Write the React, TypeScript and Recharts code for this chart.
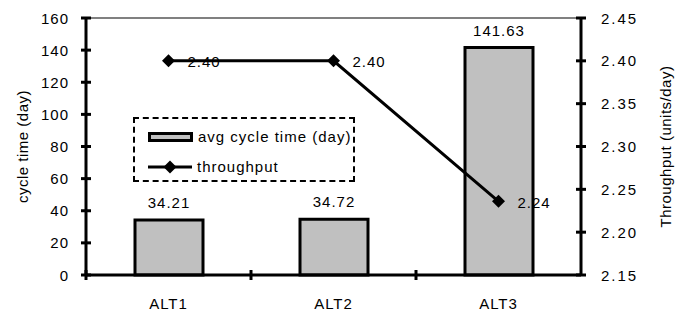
import React from "react";
import {
  ComposedChart,
  Bar,
  Line,
  XAxis,
  YAxis,
  LabelList,
  ReferenceLine,
} from "recharts";

const categories = ["ALT1", "ALT2", "ALT3"];
const cycleTime = [34.21, 34.72, 141.63];
const throughput = [2.4, 2.4, 2.236];
const leftTicks = [0, 20, 40, 60, 80, 100, 120, 140, 160];
const rightTicks = [2.15, 2.2, 2.25, 2.3, 2.35, 2.4, 2.45];

const data = categories.map((name, i) => ({
  name,
  cycle: cycleTime[i],
  tp: throughput[i],
}));

const W = 676;
const H = 314;
const LEFT_W = 86;
const RIGHT_W = 95;
const TOP = 18;
const X_H = 39;
const BAND = (W - LEFT_W - RIGHT_W) / categories.length;
const MID_Y = TOP + (H - TOP - X_H) / 2;
const FONT = "'Liberation Sans', Arial, sans-serif";

const txt = { fontFamily: FONT, fontSize: 15, fill: "#000", letterSpacing: 1 };

const LeftTick = (props: any) => {
  const { x, y, payload } = props;
  return (
    <g>
      <line x1={x - 5} x2={x + 5} y1={y} y2={y} stroke="#000" strokeWidth={3} />
      <text x={x - 17} y={y} textAnchor="end" dominantBaseline="central" {...txt}>
        {payload.value}
      </text>
    </g>
  );
};

const RightTick = (props: any) => {
  const { x, y, payload } = props;
  return (
    <g>
      <line x1={x - 5} x2={x + 5} y1={y} y2={y} stroke="#000" strokeWidth={3} />
      <text x={x + 20} y={y} textAnchor="start" dominantBaseline="central" {...txt} letterSpacing={2}>
        {Number(payload.value).toFixed(2)}
      </text>
    </g>
  );
};

const BottomTick = (props: any) => {
  const { x, y, payload, index } = props;
  return (
    <g>
      {index < categories.length - 1 && (
        <line x1={x + BAND / 2} x2={x + BAND / 2} y1={y - 5} y2={y + 5} stroke="#000" strokeWidth={3} />
      )}
      {index === 0 && (
        <line x1={x - BAND / 2} x2={x - BAND / 2} y1={y - 5} y2={y + 5} stroke="#000" strokeWidth={3} />
      )}
      <text x={x} y={y + 28} textAnchor="middle" dominantBaseline="central" {...txt}>
        {payload.value}
      </text>
    </g>
  );
};

const Diamond = (props: any) => {
  const { cx, cy, index } = props;
  const s = 6.5;
  return (
    <polygon
      key={`d-${index}`}
      points={`${cx},${cy - s} ${cx + s},${cy} ${cx},${cy + s} ${cx - s},${cy}`}
      fill="#000"
    />
  );
};

const LineLabel = (props: any) => {
  const { x, y, value } = props;
  return (
    <text x={x + 19} y={y + 1} textAnchor="start" dominantBaseline="central" {...txt}>
      {Number(value).toFixed(2)}
    </text>
  );
};

const AxisTitle = ({ text, x }: { text: string; x: number }) => (
  <text
    x={x}
    y={MID_Y}
    transform={`rotate(-90 ${x} ${MID_Y})`}
    textAnchor="middle"
    dominantBaseline="central"
    {...txt}
    letterSpacing={0.5}
  >
    {text}
  </text>
);

const ChartLegend = () => (
  <div
    style={{
      position: "absolute",
      left: 133,
      top: 117,
      border: "2px dashed #000",
      width: 222,
      height: 65,
      boxSizing: "border-box",
      background: "#fff",
      fontFamily: FONT,
      fontSize: 15,
      letterSpacing: 1,
      whiteSpace: "nowrap",
    }}
  >
    <div style={{ position: "absolute", left: 13, top: 9, display: "flex", alignItems: "center" }}>
      <div style={{ width: 39, height: 4, background: "#c0c0c0", border: "3px solid #000" }} />
      <span style={{ marginLeft: 5 }}>avg cycle time (day)</span>
    </div>
    <div style={{ position: "absolute", left: 13, top: 39, display: "flex", alignItems: "center" }}>
      <svg width={44} height={14}>
        <line x1={0} x2={44} y1={7} y2={7} stroke="#000" strokeWidth={3} />
        <polygon points="22,0.5 28.5,7 22,13.5 15.5,7" fill="#000" />
      </svg>
      <span style={{ marginLeft: 5 }}>throughput</span>
    </div>
  </div>
);

const App = () => {
  return (
    <div style={{ position: "absolute", left: 0, top: 0, width: W, height: H, background: "#fff" }}>
      <ComposedChart
        width={W}
        height={H}
        data={data}
        margin={{ top: TOP, right: 0, bottom: 0, left: 0 }}
        barCategoryGap="0%"
      >
        <XAxis
          dataKey="name"
          height={X_H}
          tickSize={0}
          tickMargin={0}
          tickLine={false}
          tick={<BottomTick />}
          axisLine={{ stroke: "#000", strokeWidth: 3 }}
          interval={0}
        />
        <YAxis
          yAxisId="left"
          width={LEFT_W}
          domain={[0, 160]}
          ticks={leftTicks}
          tickSize={0}
          tickMargin={0}
          tickLine={false}
          tick={<LeftTick />}
          axisLine={{ stroke: "#000", strokeWidth: 3 }}
        />
        <YAxis
          yAxisId="right"
          orientation="right"
          width={RIGHT_W}
          domain={[2.15, 2.45]}
          ticks={rightTicks}
          tickSize={0}
          tickMargin={0}
          tickLine={false}
          tick={<RightTick />}
          axisLine={{ stroke: "#000", strokeWidth: 3 }}
        />
        <ReferenceLine yAxisId="left" y={160} stroke="#808080" strokeWidth={2} />
        <Bar
          yAxisId="left"
          dataKey="cycle"
          fill="#c0c0c0"
          stroke="#000"
          strokeWidth={3}
          barSize={68}
          isAnimationActive={false}
        >
          <LabelList
            dataKey="cycle"
            position="top"
            offset={12}
            style={{ ...txt }}
            formatter={(v: any) => Number(v).toFixed(2)}
          />
        </Bar>
        <Line
          yAxisId="right"
          dataKey="tp"
          stroke="#000"
          strokeWidth={3}
          dot={<Diamond />}
          activeDot={false}
          isAnimationActive={false}
        >
          <LabelList dataKey="tp" content={<LineLabel />} />
        </Line>
        <AxisTitle text="cycle time (day)" x={22} />
        <AxisTitle text="Throughput (units/day)" x={665} />
      </ComposedChart>
      <ChartLegend />
    </div>
  );
};

export default App;
